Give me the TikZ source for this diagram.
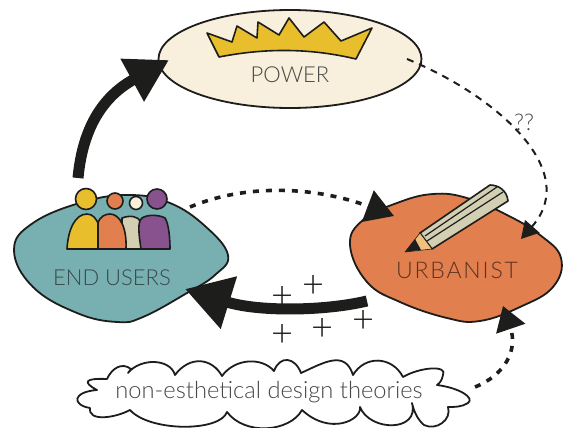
\documentclass[tikz,border=0pt]{standalone}
\usepackage{fontspec}
\setmainfont{Lato Light}
\usepackage{tikz}
\usetikzlibrary{arrows.meta,shapes.geometric}

\definecolor{inkblack}{HTML}{1D1D1B}
\definecolor{powercream}{HTML}{F8EFDC}
\definecolor{usersteal}{HTML}{78AFB1}
\definecolor{urbanorange}{HTML}{E27F4F}
\definecolor{crownyellow}{HTML}{E8BE2C}
\definecolor{peoplepurple}{HTML}{88528F}
\definecolor{peoplegrey}{HTML}{D2CFB2}
\definecolor{pencilwood}{HTML}{F0C080}

\tikzset{
  blob/.style={draw=inkblack,line width=1.8pt,line join=round},
  figure/.style={draw=inkblack,line width=1.6pt,line join=round},
  label/.style={inner sep=0pt,font=\fontsize{#1}{#1}\selectfont},
  bigarrow/.style={draw=inkblack,line width=11pt},
  dotarrow/.style={draw=inkblack,line width=3.6pt,dash pattern=on 6pt off 7pt},
  dasharrow/.style={draw=inkblack,line width=2pt,dash pattern=on 7pt off 6pt},
  plussign/.style={inner sep=0pt,text=inkblack,font=\fontsize{38}{38}\selectfont},
}

\begin{document}
\begin{tikzpicture}[x=1pt,y=-1pt]
    \useasboundingbox (0,0) rectangle (563,428);

    % the three actors
    \node[blob,ellipse,fill=powercream,inner sep=0pt,minimum width=263pt,minimum height=98pt] (power) at (290,59) {};
    \draw[blob,fill=usersteal] plot[smooth cycle,tension=.7] coordinates
      {(14,250) (33,223) (83,202) (130,195) (170,203) (205,226) (228,255) (215,275) (187,293) (143,317) (117,322) (77,313) (33,287)};
    \draw[blob,fill=urbanorange] plot[smooth cycle,tension=.7] coordinates
      {(350,245) (363,220) (397,203) (433,194) (467,198) (507,215) (540,235) (561,258) (553,287) (520,307) (480,321) (447,318) (400,302) (367,282)};

    % crown
    \draw[figure,fill=crownyellow] (207,33) -- (232,42) -- (237,26) -- (257,38) -- (258,22) -- (279,35) -- (289,18)
      -- (304,37) -- (324,22) -- (341,41) -- (372,28) -- (356,59) .. controls (310,48) and (265,48) .. (219,57) -- cycle;

    % people
    \draw[figure,fill=peoplegrey] (122,249) -- (122,218) .. controls (130,215) and (138,216) .. (141,222) -- (141,249) -- cycle;
    \draw[figure,fill=crownyellow] (67,249) .. controls (68,230) and (75,214) .. (87,214) .. controls (93,214) and (96,219) .. (98,223) -- (98,249) -- cycle;
    \draw[figure,fill=urbanorange] (98,249) -- (98,223) .. controls (100,216) and (106,214) .. (110,214) .. controls (120,214) and (127,228) .. (126,249) -- cycle;
    \draw[figure,fill=peoplepurple] (141,249) .. controls (139,235) and (137,222) .. (142,218) .. controls (148,214) and (160,215) .. (165,218) .. controls (169,224) and (170,240) .. (170,249) -- cycle;
    \draw[figure] (67,249) -- (170,249);
    \node[figure,circle,fill=crownyellow,inner sep=0pt,minimum size=21pt] (headyellow) at (86,199) {};
    \node[figure,circle,fill=urbanorange,inner sep=0pt,minimum size=16pt] (headorange) at (115,201) {};
    \node[figure,circle,fill=powercream,inner sep=0pt,minimum size=13pt] (headcream) at (136,203) {};
    \node[figure,circle,fill=peoplepurple,inner sep=0pt,minimum size=20pt] (headpurple) at (157,199) {};

    % pencil
    \draw[figure,fill=peoplegrey] (420,233) -- (490,185) .. controls (498,185) and (507,190) .. (508,201) -- (432,249) -- cycle;
    \draw[figure,line width=1.2pt] (427,241) -- (503,192);
    \draw[figure,line width=1.2pt] (425,236) -- (497,187);
    \draw[figure,line width=.6pt,fill=pencilwood] (420,233) -- (432,249) -- (405,252) -- cycle;
    \fill[inkblack] (405,252) -- (415,239) -- (421,250) -- cycle;

    % the cloud
    \draw[blob,fill=white] (97,390) .. controls (82,382) and (85,378) .. (107,379)
      .. controls (112,368) and (122,362) .. (131,369) -- (128,373)
      .. controls (140,358) and (170,358) .. (175,375)
      .. controls (190,355) and (212,358) .. (222,376)
      .. controls (235,358) and (262,357) .. (274,371)
      .. controls (280,355) and (295,357) .. (301,373)
      .. controls (325,362) and (345,350) .. (353,375)
      .. controls (365,355) and (392,356) .. (403,377)
      .. controls (420,367) and (448,365) .. (443,375) .. controls (442,380) and (440,383) .. (437,385)
      .. controls (460,388) and (475,398) .. (468,403) .. controls (462,407) and (455,407) .. (448,407)
      .. controls (452,420) and (436,431) .. (424,425) .. controls (418,420) and (414,412) .. (412,403)
      .. controls (420,432) and (370,432) .. (360,407)
      .. controls (362,420) and (330,436) .. (302,410)
      .. controls (290,432) and (245,436) .. (227,412)
      .. controls (220,432) and (150,432) .. (130,410)
      .. controls (115,418) and (88,422) .. (90,408)
      .. controls (72,405) and (72,392) .. (97,390) -- cycle;

    % texts
    \node[label=22,text=black!72] (powertxt) at (290,75) {POWER};
    \node[label=22,text=usersteal!30!black!90] (userstxt) at (112,278) {END USERS};
    \node[label=23,text=urbanorange!40!black] (urbantxt) at (457,270) {\addfontfeature{LetterSpace=8}URBANIST};
    \node[label=23.7,text=black!72] (cloudtxt) at (269,392) {non-esthetical design theories};
    \node[label=23,text=black!72] (doubtxt) at (524,122) {??};
    \foreach \px/\py [count=\i] in {283/297,314/286,283/335,323/329,364/321}
      \node[plussign] (plus\i) at (\px,\py) {+};

    % ends of the connectors
    \coordinate (usersup) at (78,178);
    \coordinate (powerin) at (169,60);
    \coordinate (usersright) at (190,207);
    \coordinate (urbanleft) at (394,216);
    \coordinate (powerout) at (407,59);
    \coordinate (urbantop) at (521,239);
    \coordinate (urbanout) at (367,301);
    \coordinate (usersin) at (185,289);
    \coordinate (cloudout) at (475,387);
    \coordinate (urbanbottom) at (503,306);

    \draw[bigarrow,-{Triangle[length=42pt,width=46pt]}] (usersup) .. controls (82,135) and (98,99) .. (powerin);
    \draw[dotarrow,-{Triangle[length=28pt,width=33pt]}] (usersright) .. controls (250,182) and (320,188) .. (urbanleft);
    \draw[dasharrow,-{Triangle[length=17pt,width=19pt]}] (powerout) .. controls (495,95) and (582,170) .. (urbantop);
    \draw[bigarrow,-{Triangle[length=46pt,width=52pt]}] (urbanout) .. controls (325,311) and (259,312) .. (usersin);
    \draw[dotarrow,-{Triangle[length=24pt,width=30pt]}] (cloudout) .. controls (505,375) and (518,350) .. (urbanbottom);
  \end{tikzpicture}
\end{document}
